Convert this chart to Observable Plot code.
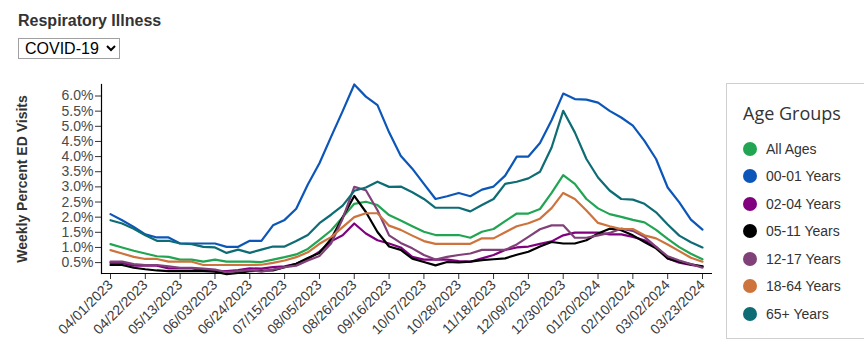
<!DOCTYPE html>
<html>
<head>
<meta charset="utf-8">
<script src="https://cdn.jsdelivr.net/npm/d3@7"></script>
<script src="https://cdn.jsdelivr.net/npm/@observablehq/plot@0.6"></script>
<style>
  html, body { margin: 0; padding: 0; background: #fff; }
  body { width: 864px; height: 350px; overflow: hidden; position: relative; font-family: "Liberation Sans", Arial, sans-serif; color: #333; }
  #title { position: absolute; left: 18px; top: 12px; font-weight: bold; font-size: 16px; color: #333; white-space: nowrap; }
  #sel { position: absolute; left: 18px; top: 38px; width: 102px; height: 21px; font: 16px "Liberation Sans", Arial, sans-serif; color: #000; border: 1px solid #a0a0a0; border-radius: 0; background: #fff; padding: 0 0 0 2px; margin: 0; box-sizing: border-box; }
  #chart { position: absolute; left: 0; top: 65px; }
  #legend { position: absolute; left: 726px; top: 83px; width: 150px; height: 256px; border: 1px solid #cfcfcf; box-sizing: border-box; }
  #legend .ttl { position: absolute; left: 16px; top: 17px; font-family: "Open Sans", sans-serif; font-size: 18px; font-weight: 500; color: #333; white-space: nowrap; }
  #legend .item { position: absolute; left: 16px; height: 20px; display: flex; align-items: center; font-size: 14px; color: #333; white-space: nowrap; }
  #legend .dot { width: 14px; height: 14px; border-radius: 50%; margin-right: 9px; flex: none; }
</style>
</head>
<body>
<div id="title">Respiratory Illness</div>
<select id="sel"><option>COVID-19</option></select>
<div id="chart"></div>
<div id="legend"></div>
<script>
// ---- data ----
const startDate = "2023-04-01";
const nWeeks = 52;
const groups = ["All Ages", "00-01 Years", "02-04 Years", "05-11 Years", "12-17 Years", "18-64 Years", "65+ Years"];
const colors = ["#21a553", "#0b56b8", "#800080", "#000000", "#804078", "#cd733b", "#0d6c74"];
const legendTitle = "Age Groups";
const yLabel = "Weekly Percent ED Visits";
const yTicks = [0.5, 1.0, 1.5, 2.0, 2.5, 3.0, 3.5, 4.0, 4.5, 5.0, 5.5, 6.0];
const xTickLabels = ["04/01/2023","04/22/2023","05/13/2023","06/03/2023","06/24/2023","07/15/2023","08/05/2023","08/26/2023","09/16/2023","10/07/2023","10/28/2023","11/18/2023","12/09/2023","12/30/2023","01/20/2024","02/10/2024","03/02/2024","03/23/2024"];
const yDomain = [0.14, 6.38];

const allAges = [1.11,1.00,0.89,0.80,0.71,0.69,0.60,0.60,0.53,0.60,0.53,0.53,0.53,0.52,0.60,0.68,0.77,0.95,1.25,1.56,2.00,2.44,2.51,2.40,2.07,1.89,1.70,1.52,1.41,1.41,1.41,1.32,1.52,1.61,1.87,2.12,2.12,2.27,2.80,3.39,3.10,2.60,2.29,2.10,2.01,1.91,1.83,1.58,1.28,1.01,0.79,0.61];
const age0001 = [2.10,1.90,1.68,1.43,1.33,1.33,1.13,1.13,1.13,1.13,1.02,1.02,1.22,1.22,1.73,1.91,2.28,3.08,3.78,4.65,5.50,6.38,5.98,5.70,4.80,4.03,3.60,3.10,2.60,2.69,2.80,2.69,2.91,3.01,3.37,4.00,4.00,4.45,5.20,6.08,5.90,5.88,5.78,5.51,5.29,5.02,4.52,3.92,2.98,2.49,1.92,1.59];
const age0204 = [0.49,0.49,0.40,0.40,0.40,0.31,0.31,0.31,0.25,0.22,0.22,0.25,0.31,0.30,0.35,0.38,0.46,0.62,0.86,1.20,1.40,1.79,1.46,1.24,1.13,1.00,0.69,0.60,0.60,0.60,0.55,0.53,0.64,0.75,0.92,1.00,1.03,1.12,1.20,1.40,1.49,1.49,1.49,1.43,1.43,1.35,1.24,1.02,0.64,0.50,0.42,0.37];
const age0511 = [0.42,0.42,0.33,0.28,0.24,0.22,0.22,0.22,0.22,0.20,0.12,0.16,0.22,0.23,0.24,0.35,0.46,0.65,0.82,1.28,2.00,2.70,2.17,1.51,1.03,0.92,0.63,0.52,0.41,0.52,0.51,0.53,0.58,0.61,0.64,0.76,0.86,1.03,1.18,1.13,1.13,1.24,1.46,1.62,1.57,1.40,1.18,0.97,0.64,0.53,0.44,0.38];
const age1217 = [0.53,0.53,0.45,0.42,0.42,0.38,0.33,0.33,0.30,0.27,0.19,0.22,0.25,0.20,0.27,0.35,0.40,0.57,0.72,1.13,1.95,3.00,2.89,2.23,1.40,1.15,0.97,0.75,0.60,0.69,0.75,0.80,0.92,0.92,0.92,1.10,1.35,1.60,1.73,1.73,1.32,1.32,1.40,1.48,1.62,1.55,1.35,1.02,0.71,0.57,0.45,0.33];
const age1864 = [0.91,0.80,0.69,0.62,0.62,0.53,0.53,0.53,0.42,0.42,0.42,0.42,0.42,0.43,0.49,0.57,0.68,0.84,1.12,1.34,1.67,2.00,2.13,2.13,1.72,1.58,1.39,1.21,1.12,1.12,1.12,1.12,1.30,1.30,1.50,1.70,1.80,1.95,2.30,2.80,2.60,2.22,1.81,1.70,1.61,1.61,1.40,1.30,1.10,0.88,0.66,0.53];
const age65 = [1.90,1.79,1.62,1.40,1.22,1.22,1.13,1.11,1.02,1.00,0.82,0.93,0.82,0.93,1.03,1.03,1.21,1.41,1.80,2.08,2.38,2.87,2.98,3.17,3.00,3.01,2.82,2.60,2.31,2.31,2.31,2.19,2.40,2.60,3.10,3.17,3.28,3.50,4.30,5.51,4.80,3.92,3.31,2.88,2.60,2.58,2.44,2.16,1.76,1.39,1.17,1.00];
const seriesValues = [allAges, age0001, age0204, age0511, age1217, age1864, age65];

// ---- build table ----
const start = new Date(startDate + "T00:00:00Z");
const weeks = d3.range(nWeeks).map(i => d3.utcDay.offset(start, 7 * i));
const parseTick = d3.utcParse("%m/%d/%Y");
const xTicks = xTickLabels.map(parseTick);
const rows = groups.flatMap((g, k) => seriesValues[k].map((v, i) => ({date: weeks[i], value: v, group: g})));

const chart = Plot.plot({
  width: 720,
  height: 280,
  marginTop: 19,
  marginBottom: 72,
  marginLeft: 101,
  marginRight: 8,
  style: {fontFamily: '"Liberation Sans", Arial, sans-serif', fontSize: "14px", color: "#333", background: "transparent", overflow: "visible"},
  x: {type: "utc", domain: [weeks[0], weeks[nWeeks - 1]], insetLeft: 9, insetRight: 10},
  y: {domain: yDomain},
  color: {domain: groups, range: colors},
  marks: [
    Plot.axisY({ticks: yTicks, tickFormat: d => d.toFixed(1) + "%", tickSize: 6, tickPadding: 2, label: null, fill: "#4a4a4a", stroke: "#333", fontSize: 14}),
    Plot.axisX({ticks: xTicks, tickFormat: d3.utcFormat("%m/%d/%Y"), tickRotate: -45, tickSize: 6, tickPadding: 3, label: null, fill: "#3a3a3a", stroke: "#333", fontSize: 14}),
    Plot.ruleY([yDomain[0]], {stroke: "#000", strokeWidth: 1.2}),
    Plot.frame({anchor: "left", stroke: "#000", strokeWidth: 1.2}),
    Plot.lineY(rows, {x: "date", y: "value", z: "group", stroke: "group", strokeWidth: 2.2}),
    Plot.text([yLabel], {frameAnchor: "left", textAnchor: "middle", rotate: -90, dx: -79, fontWeight: "bold", fontSize: 14, fill: "#333"})
  ]
});
document.getElementById("chart").appendChild(chart);

// ---- legend ----
const legend = document.getElementById("legend");
const ttl = document.createElement("div");
ttl.className = "ttl";
ttl.textContent = legendTitle;
legend.appendChild(ttl);
groups.forEach((g, i) => {
  const it = document.createElement("div");
  it.className = "item";
  it.style.top = (54.5 + 27.5 * i) + "px";
  const dot = document.createElement("span");
  dot.className = "dot";
  dot.style.background = colors[i];
  const label = document.createElement("span");
  label.textContent = g;
  it.appendChild(dot);
  it.appendChild(label);
  legend.appendChild(it);
});
</script>
</body>
</html>
